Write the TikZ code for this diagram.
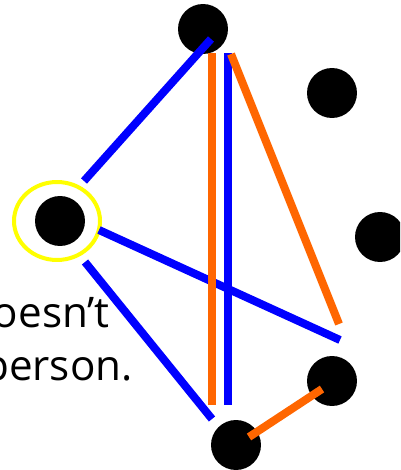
\documentclass[tikz,border=0pt]{standalone}
\usepackage{fontspec}
\setmainfont{Open Sans}
\usetikzlibrary{shapes.geometric}
\definecolor{orangeline}{RGB}{255,102,0}
\definecolor{ringyellow}{RGB}{255,255,0}
\definecolor{blueline}{RGB}{0,0,255}

\begin{document}
\begin{tikzpicture}[
    x=0.02cm, y=-0.02cm,
    dot/.style={circle, fill=black, inner sep=0pt, minimum size=1cm},
    ring/.style={ellipse, draw=ringyellow, line width=0.08cm, inner sep=0pt,
                 minimum width=1.72cm, minimum height=1.56cm},
    edge/.style={line width=0.16cm},
    bedge/.style={edge, draw=blueline},
    oedge/.style={edge, draw=orangeline},
    txt/.style={font=\fontsize{24}{28}\selectfont, anchor=base east, inner sep=0pt}
  ]
    \useasboundingbox (0,0) rectangle (400,470);
    \clip (0,0) rectangle (400,470);
    % people
    \node[dot] (top)   at (203,29)  {};
    \node[dot] (rup)   at (332,93)  {};
    \node[dot] (rmid)  at (380,237) {};
    \node[dot] (me)    at (60,221)  {};
    \node[ring] (halo) at (57,221)  {};
    \node[dot] (rlow)  at (332,381) {};
    \node[dot] (bot)   at (236,445) {};
    % text
    \node[txt] (l1) at (110,327) {oesn’t};
    \node[txt] (l2) at (133,380) {person.};
    % line ends
    \coordinate (haloNE) at (84,181);
    \coordinate (haloE)  at (99,230);
    \coordinate (haloSE) at (85,262);
    \coordinate (topIn)  at (211,39);
    \coordinate (oTop)   at (212,53);
    \coordinate (oBot)   at (212,405);
    \coordinate (bTop)   at (228,53);
    \coordinate (bBot)   at (228,405);
    \coordinate (dTop)   at (231,54);
    \coordinate (dBot)   at (339,324);
    \coordinate (eEnd)   at (340,340);
    \coordinate (sEnd)   at (212,419);
    \coordinate (botIn)  at (249,437);
    \coordinate (rlowIn) at (322,389);
    % links
    \draw[bedge] (haloNE) -- (topIn);
    \draw[bedge] (haloE)  -- (eEnd);
    \draw[bedge] (haloSE) -- (sEnd);
    \draw[oedge] (oTop) -- (oBot);
    \draw[bedge] (bTop) -- (bBot);
    \draw[oedge] (dTop) -- (dBot);
    \draw[oedge] (botIn) -- (rlowIn);
  \end{tikzpicture}
\end{document}
